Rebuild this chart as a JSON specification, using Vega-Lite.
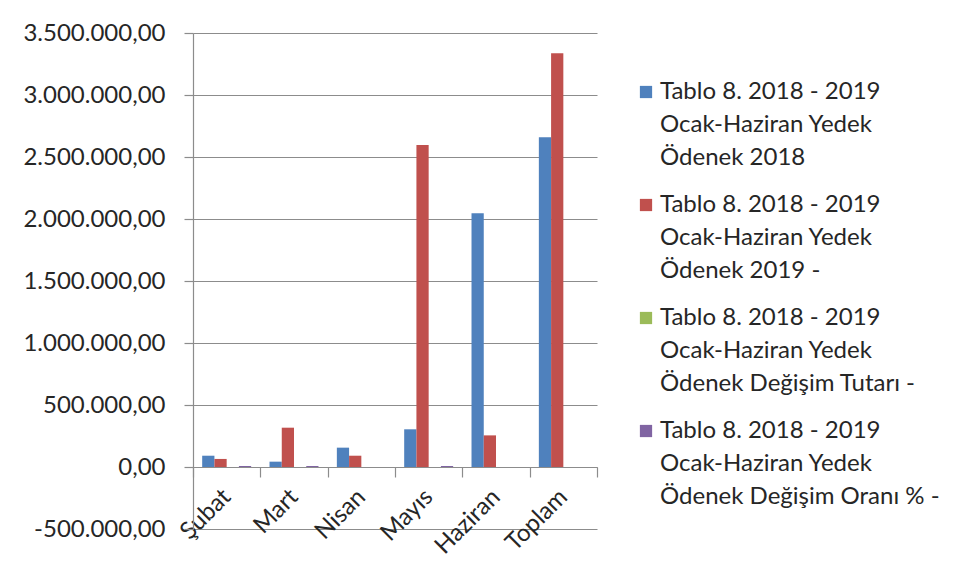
{
  "$schema": "https://vega.github.io/schema/vega-lite/v6.json",
  "autosize": {"type": "none"},
  "padding": {"left": 193, "top": 33, "right": 360, "bottom": 49},
  "width": 404,
  "height": 496,
  "background": "white",
  "data": {
    "values": [
      {"ay": "Şubat", "seri": "Tablo 8. 2018 - 2019 Ocak-Haziran Yedek Ödenek 2018", "deger": 91000},
      {"ay": "Şubat", "seri": "Tablo 8. 2018 - 2019 Ocak-Haziran Yedek Ödenek 2019 -", "deger": 65000},
      {"ay": "Şubat", "seri": "Tablo 8. 2018 - 2019 Ocak-Haziran Yedek Ödenek Değişim Tutarı -", "deger": 0},
      {"ay": "Şubat", "seri": "Tablo 8. 2018 - 2019 Ocak-Haziran Yedek Ödenek Değişim Oranı % -", "deger": 8000},
      {"ay": "Mart", "seri": "Tablo 8. 2018 - 2019 Ocak-Haziran Yedek Ödenek 2018", "deger": 43000},
      {"ay": "Mart", "seri": "Tablo 8. 2018 - 2019 Ocak-Haziran Yedek Ödenek 2019 -", "deger": 317000},
      {"ay": "Mart", "seri": "Tablo 8. 2018 - 2019 Ocak-Haziran Yedek Ödenek Değişim Tutarı -", "deger": 0},
      {"ay": "Mart", "seri": "Tablo 8. 2018 - 2019 Ocak-Haziran Yedek Ödenek Değişim Oranı % -", "deger": 8000},
      {"ay": "Nisan", "seri": "Tablo 8. 2018 - 2019 Ocak-Haziran Yedek Ödenek 2018", "deger": 156000},
      {"ay": "Nisan", "seri": "Tablo 8. 2018 - 2019 Ocak-Haziran Yedek Ödenek 2019 -", "deger": 91000},
      {"ay": "Nisan", "seri": "Tablo 8. 2018 - 2019 Ocak-Haziran Yedek Ödenek Değişim Tutarı -", "deger": 0},
      {"ay": "Nisan", "seri": "Tablo 8. 2018 - 2019 Ocak-Haziran Yedek Ödenek Değişim Oranı % -", "deger": 0},
      {"ay": "Mayıs", "seri": "Tablo 8. 2018 - 2019 Ocak-Haziran Yedek Ödenek 2018", "deger": 304000},
      {"ay": "Mayıs", "seri": "Tablo 8. 2018 - 2019 Ocak-Haziran Yedek Ödenek 2019 -", "deger": 2597000},
      {"ay": "Mayıs", "seri": "Tablo 8. 2018 - 2019 Ocak-Haziran Yedek Ödenek Değişim Tutarı -", "deger": 0},
      {"ay": "Mayıs", "seri": "Tablo 8. 2018 - 2019 Ocak-Haziran Yedek Ödenek Değişim Oranı % -", "deger": 8000},
      {"ay": "Haziran", "seri": "Tablo 8. 2018 - 2019 Ocak-Haziran Yedek Ödenek 2018", "deger": 2046000},
      {"ay": "Haziran", "seri": "Tablo 8. 2018 - 2019 Ocak-Haziran Yedek Ödenek 2019 -", "deger": 255000},
      {"ay": "Haziran", "seri": "Tablo 8. 2018 - 2019 Ocak-Haziran Yedek Ödenek Değişim Tutarı -", "deger": 0},
      {"ay": "Haziran", "seri": "Tablo 8. 2018 - 2019 Ocak-Haziran Yedek Ödenek Değişim Oranı % -", "deger": 0},
      {"ay": "Toplam", "seri": "Tablo 8. 2018 - 2019 Ocak-Haziran Yedek Ödenek 2018", "deger": 2659000},
      {"ay": "Toplam", "seri": "Tablo 8. 2018 - 2019 Ocak-Haziran Yedek Ödenek 2019 -", "deger": 3336000},
      {"ay": "Toplam", "seri": "Tablo 8. 2018 - 2019 Ocak-Haziran Yedek Ödenek Değişim Tutarı -", "deger": 0},
      {"ay": "Toplam", "seri": "Tablo 8. 2018 - 2019 Ocak-Haziran Yedek Ödenek Değişim Oranı % -", "deger": 0}
    ]
  },
  "mark": {"type": "bar"},
  "encoding": {
    "x": {
      "field": "ay", "type": "nominal", "sort": null,
      "scale": {"paddingInner": 0, "paddingOuter": 0},
      "axis": {
        "title": null, "orient": "bottom", "offset": -62, "tickBand": "extent",
        "tickSize": 10, "labelAngle": -45, "labelAlign": "right", "labelBaseline": "middle",
        "labelPadding": 16, "grid": false
      }
    },
    "xOffset": {
      "field": "seri", "type": "nominal",
      "sort": [
        "Tablo 8. 2018 - 2019 Ocak-Haziran Yedek Ödenek 2018",
        "Tablo 8. 2018 - 2019 Ocak-Haziran Yedek Ödenek 2019 -",
        "Tablo 8. 2018 - 2019 Ocak-Haziran Yedek Ödenek Değişim Tutarı -",
        "Tablo 8. 2018 - 2019 Ocak-Haziran Yedek Ödenek Değişim Oranı % -"
      ],
      "scale": {"paddingInner": 0, "paddingOuter": 0.75}
    },
    "y": {
      "field": "deger", "type": "quantitative",
      "scale": {"domain": [-500000, 3500000], "nice": false, "zero": false},
      "axis": {
        "title": null,
        "values": [-500000, 0, 500000, 1000000, 1500000, 2000000, 2500000, 3000000, 3500000],
        "format": ",.2f", "tickSize": 9, "labelPadding": 19, "grid": true
      }
    },
    "color": {
      "field": "seri", "type": "nominal",
      "scale": {
        "domain": [
          "Tablo 8. 2018 - 2019 Ocak-Haziran Yedek Ödenek 2018",
          "Tablo 8. 2018 - 2019 Ocak-Haziran Yedek Ödenek 2019 -",
          "Tablo 8. 2018 - 2019 Ocak-Haziran Yedek Ödenek Değişim Tutarı -",
          "Tablo 8. 2018 - 2019 Ocak-Haziran Yedek Ödenek Değişim Oranı % -"
        ],
        "range": ["#4F81BD", "#C0504D", "#9BBB59", "#8064A2"]
      },
      "legend": {
        "title": null, "orient": "none", "legendX": 441, "legendY": 47,
        "symbolType": "square", "symbolSize": 150, "symbolStrokeWidth": 0,
        "labelExpr": "[slice(datum.label,0,20), slice(datum.label,21,39), slice(datum.label,40)]",
        "labelLimit": 400, "rowPadding": 23, "labelOffset": 2
      }
    }
  },
  "config": {
    "locale": {
      "number": {"decimal": ",", "thousands": ".", "grouping": [3], "currency": ["", " TL"], "minus": "-"}
    },
    "view": {"stroke": null},
    "font": "Lato",
    "axis": {
      "labelFont": "Lato", "labelFontSize": 24, "labelColor": "#262626",
      "domainColor": "#8c8c8c", "tickColor": "#8c8c8c", "gridColor": "#8c8c8c",
      "domainWidth": 1.2, "gridWidth": 1.2, "tickWidth": 1.2
    },
    "legend": {"labelFont": "Lato", "labelFontSize": 24, "labelColor": "#262626"},
    "style": {"guide-label": {"lineHeight": 33}}
  }
}
